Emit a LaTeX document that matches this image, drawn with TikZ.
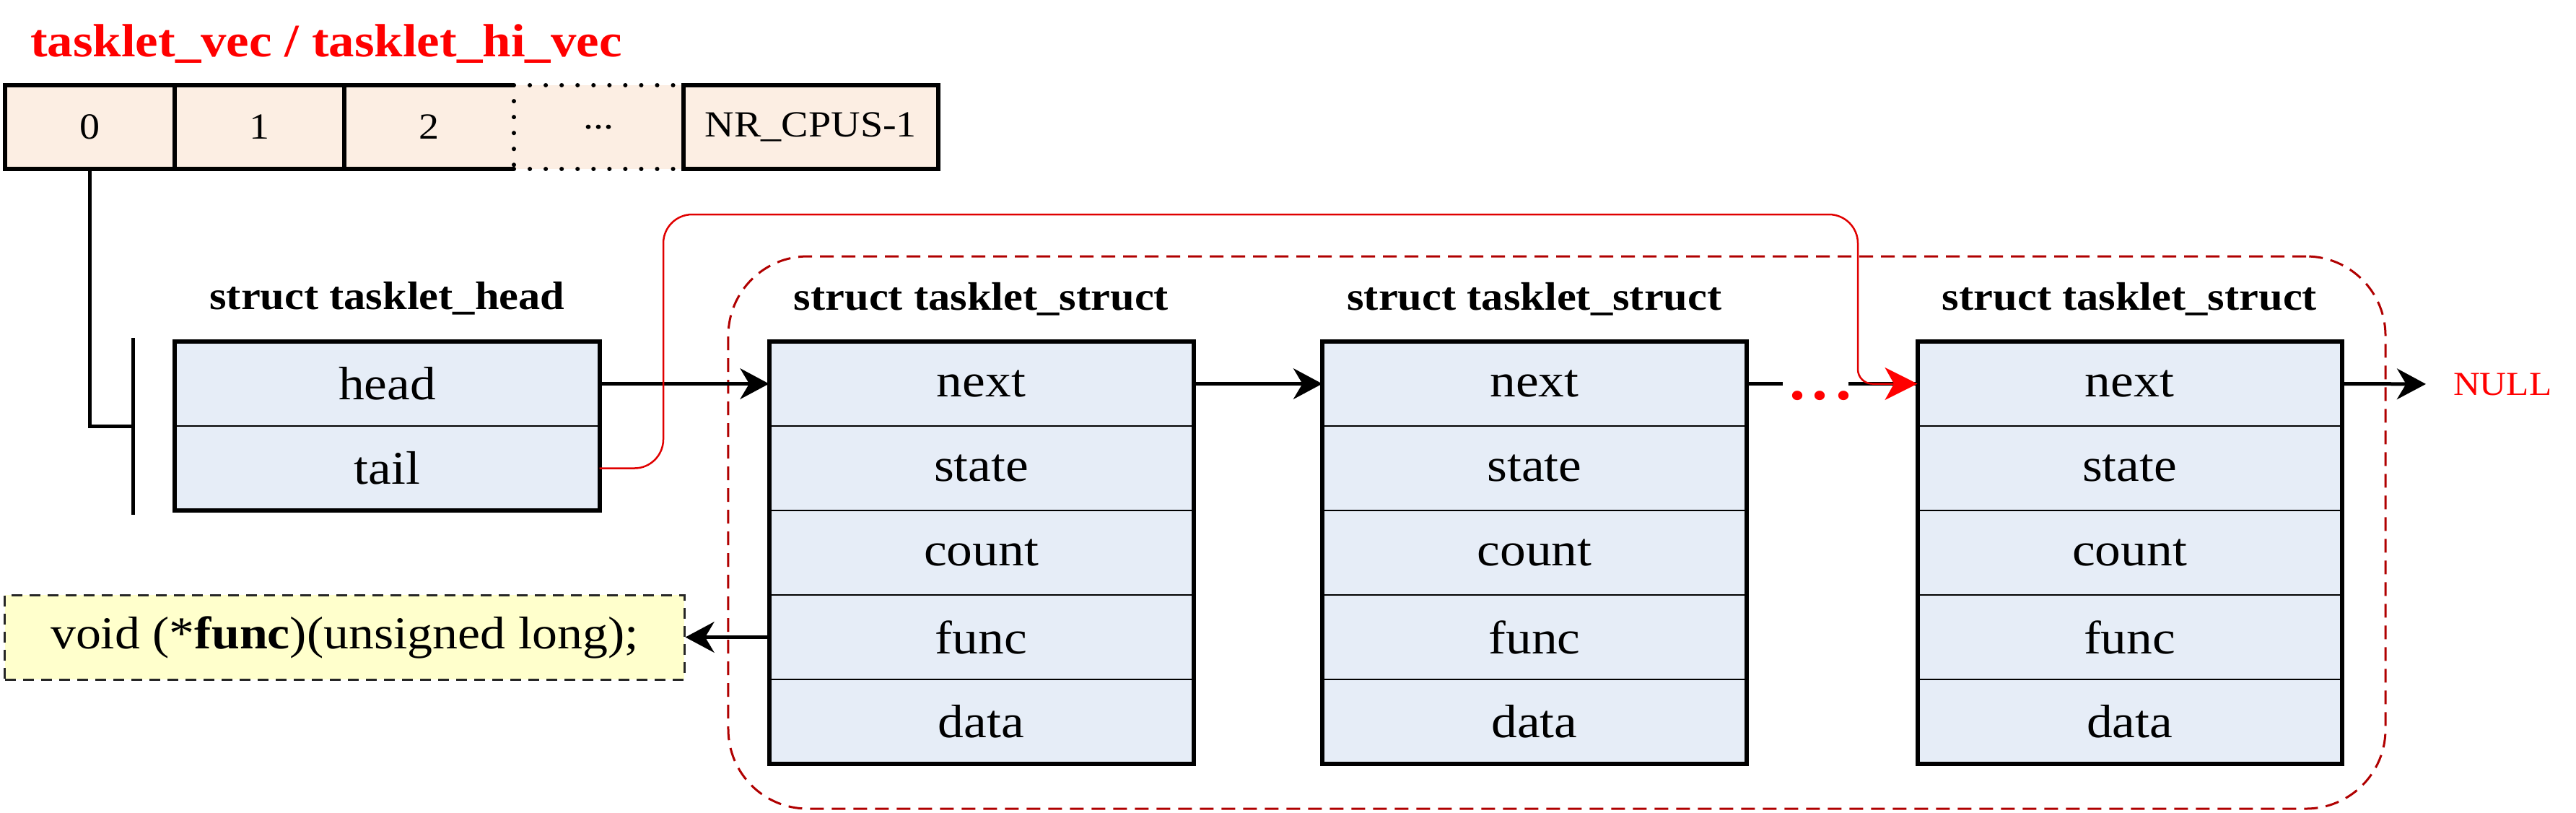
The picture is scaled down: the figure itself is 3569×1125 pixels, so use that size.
\documentclass[tikz,border=0pt]{standalone}
\usepackage{fontspec}
\setmainfont{Liberation Serif}[FakeStretch=1.1]
\usetikzlibrary{arrows.meta}
\definecolor{cellfill}{HTML}{FCEEE3}
\definecolor{fieldfill}{HTML}{E6EDF7}
\definecolor{notefill}{HTML}{FFFFCC}
\definecolor{groupred}{HTML}{B00000}
\definecolor{linkred}{HTML}{E00000}
\tikzset{
  cell/.style={fill=cellfill, minimum height=23.2pt, inner sep=0pt, outer sep=0pt, font=\fontsize{10.2}{12}\selectfont},
  field/.style={fill=fieldfill, draw=black, line width=0.5pt, minimum width=117.6pt, minimum height=23.4pt, inner sep=0pt, outer sep=0pt, font=\fontsize{13}{15}\selectfont},
  frame/.style={draw=black, line width=1.2pt},
  boxtitle/.style={font=\bfseries\fontsize{11}{13}\selectfont, inner sep=0pt},
  tipb/.style={-{Stealth[length=8pt,width=8.5pt,inset=2.5pt]}},
  link/.style={line width=1pt, tipb},
  plainline/.style={line width=1pt},
  cellline/.style={line width=1.1pt},
  dotline/.style={line width=1.2pt, line cap=round, dash pattern=on 0.01pt off 4.4pt},
  redlink/.style={draw=linkred, line width=0.5pt, -{Stealth[length=9pt,width=9pt,inset=2.5pt,color=red]}},
}
\begin{document}
\begin{tikzpicture}[x=0.2pt,y=-0.2pt]
\useasboundingbox (0,0) rectangle (3569,1125);

% title
\node[anchor=west, text=red, font=\bfseries\fontsize{12.9}{15}\selectfont, inner sep=0pt] (vec) at (41,61) {tasklet\_vec / tasklet\_hi\_vec};

% array cells
\node[cell, minimum width=47pt] (a0) at (124.5,176) {0};
\node[cell, minimum width=47pt] (a1) at (359.5,176) {1};
\node[cell, minimum width=47pt] (a2) at (594.5,176) {2};
\node[cell, minimum width=47pt] (a3) at (829.5,176) {...};
\node[cell, minimum width=70.6pt] (a4) at (1123.5,176) {NR\_CPUS-1};
\draw[cellline] (a2.north east) -- (a0.north west) -- (a0.south west) -- (a2.south east);
\draw[cellline] (a1.north west) -- (a1.south west) (a2.north west) -- (a2.south west);
\draw[dotline] (a3.north west) -- (a3.north east) (a3.south west) -- (a3.south east) (a3.north west) -- (a3.south west);
\draw[cellline] (a4.north west) rectangle (a4.south east);

% dashed group
\node[draw=groupred, line width=0.6pt, dash pattern=on 3.8pt off 2.2pt, rounded corners=22pt, minimum width=459.2pt, minimum height=153pt, inner sep=0pt] (group) at (2157,737.5) {};

% head struct
\node[boxtitle] (th) at (536.5,413) {struct tasklet\_head};
\node[field] (h1) at (536.5,531.5) {head};
\node[field] (h2) at (536.5,648.5) {tail};
\draw[frame] (h1.north west) rectangle (h2.south east);

% tasklet structs
\foreach \n/\cx in {1/1359.5, 2/2126, 3/2950.5}{
  \node[boxtitle] (t\n) at (\cx,414) {struct tasklet\_struct};
  \node[field] (s\n a) at (\cx,531.5) {next};
  \node[field] (s\n b) at (\cx,648.5) {state};
  \node[field] (s\n c) at (\cx,765.5) {count};
  \node[field] (s\n d) at (\cx,882.5) {func};
  \node[field] (s\n e) at (\cx,999.5) {data};
  \draw[frame] (s\n a.north west) rectangle (s\n e.south east);
}

% note box
\node[draw=black!85, line width=0.6pt, dash pattern=on 3pt off 2pt, fill=notefill, minimum width=188.2pt, minimum height=23.4pt, inner sep=0pt, font=\fontsize{12.7}{15}\selectfont] (note) at (477.5,882.5) {void (*\textbf{func})(unsigned long);};

% NULL
\node[anchor=west, inner sep=0pt, text=red, font=\fontsize{9.3}{11}\selectfont] (null) at (3398,532) {NULL};

% array to head
\coordinate (barmid) at (184,590);
\coordinate (bartop) at (184,468);
\coordinate (barbot) at (184,713);
\draw[plainline] (a0.south) |- (barmid);
\draw[plainline] (bartop) -- (barbot);

% links
\draw[link] (h1.east) -- (s1a.west);
\draw[link] (s1a.east) -- (s2a.west);
\coordinate (d1) at (2470,531.5);
\coordinate (d2) at (2561,531.5);
\draw[plainline] (s2a.east) -- (d1);
\node[anchor=base, inner sep=0pt, text=red, font=\bfseries\fontsize{16}{18}\selectfont] (dots) at (2522,553) {.\kern2pt.\kern2pt.};
\draw[plainline] (d2) -- (s3a.west);
\draw[link] (s1d.west) -- (note.east);
\draw[link, shorten >=7.4pt] (s3a.east) -- (null.west);

% tail pointer
\coordinate (r1) at (919,297);
\coordinate (r2) at (2574,297);
\draw[redlink, rounded corners=8pt] (h2.east) -| (r1) -- (r2) [rounded corners=4pt] |- (s3a.west);
\end{tikzpicture}
\end{document}
